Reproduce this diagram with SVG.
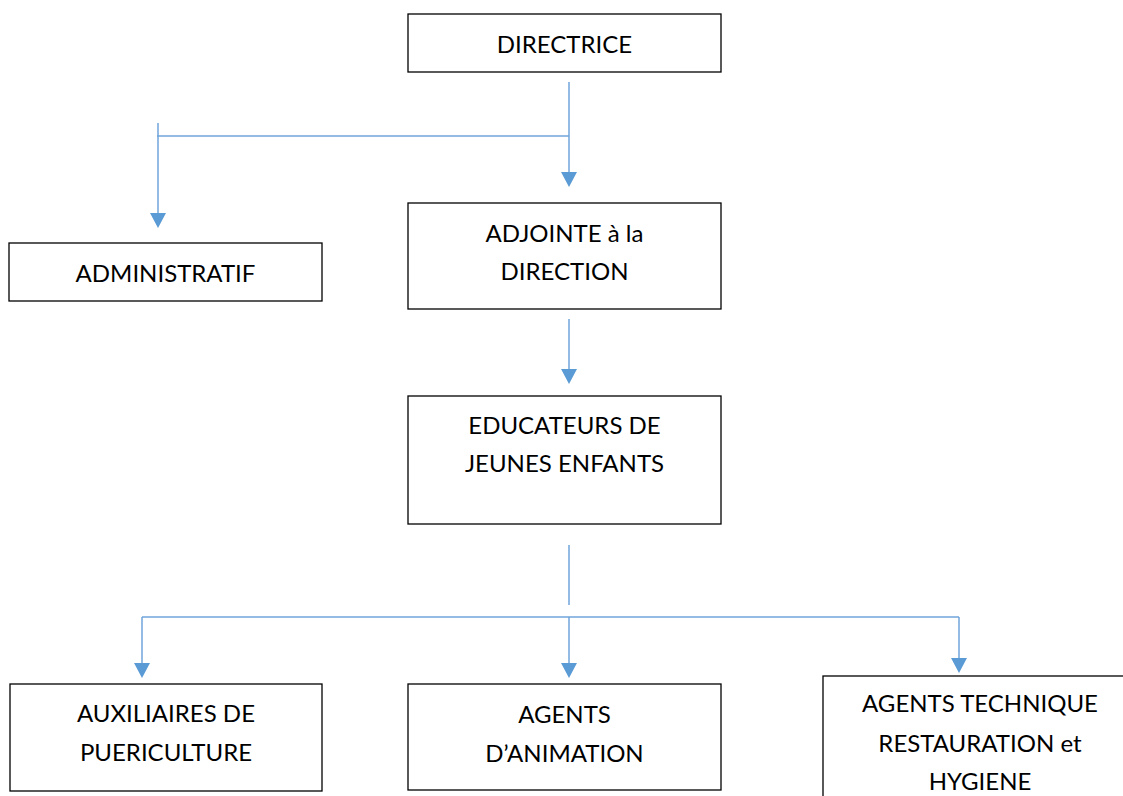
<svg xmlns="http://www.w3.org/2000/svg" width="1123" height="796" viewBox="0 0 1123 796">
<defs>
<style>
.box{fill:#fff;stroke:#000;stroke-width:1.3}
.t{font-family:Lato,"Liberation Sans",sans-serif;font-size:24px;fill:#000;text-anchor:middle}
.c{fill:none;stroke:#6FA5DA;stroke-width:1.5}
</style>
<marker id="ah" markerWidth="16" markerHeight="15" refX="8" refY="15" orient="auto-start-reverse" markerUnits="userSpaceOnUse" viewBox="0 0 16 15">
<path d="M0,0 L16,0 L8,15 Z" fill="#5B9BD5"/>
</marker>
</defs>
<rect width="1123" height="796" fill="#fff"/>
<g id="connectors">
<line class="c" x1="569" y1="82" x2="569" y2="172"/>
<path d="M561,172 L577,172 L569,187 Z" fill="#5B9BD5"/>
<line class="c" x1="157" y1="136" x2="569" y2="136"/>
<line class="c" x1="158" y1="123" x2="158" y2="213"/>
<path d="M150,213 L166,213 L158,228 Z" fill="#5B9BD5"/>
<line class="c" x1="569" y1="319" x2="569" y2="369"/>
<path d="M561,369 L577,369 L569,384 Z" fill="#5B9BD5"/>
<line class="c" x1="569" y1="545" x2="569" y2="605"/>
<line class="c" x1="142" y1="617" x2="959" y2="617"/>
<line class="c" x1="142" y1="617" x2="142" y2="663"/>
<path d="M134,663 L150,663 L142,678 Z" fill="#5B9BD5"/>
<line class="c" x1="569" y1="617" x2="569" y2="663"/>
<path d="M561,663 L577,663 L569,678 Z" fill="#5B9BD5"/>
<line class="c" x1="959" y1="617" x2="959" y2="658"/>
<path d="M951,658 L967,658 L959,673 Z" fill="#5B9BD5"/>
</g>
<g id="directrice">
<rect class="box" x="408" y="14" width="313" height="58"/>
<text class="t" x="564.5" y="53">DIRECTRICE</text>
</g>
<g id="administratif">
<rect class="box" x="9" y="243" width="313" height="58"/>
<text class="t" x="165.5" y="282">ADMINISTRATIF</text>
</g>
<g id="adjointe">
<rect class="box" x="408" y="203" width="313" height="106"/>
<text class="t" x="564.5" y="242">ADJOINTE à la</text>
<text class="t" x="564.5" y="280">DIRECTION</text>
</g>
<g id="educateurs">
<rect class="box" x="408" y="396" width="313" height="128"/>
<text class="t" x="564.5" y="434">EDUCATEURS DE</text>
<text class="t" x="564.5" y="472">JEUNES ENFANTS</text>
</g>
<g id="auxiliaires">
<rect class="box" x="10" y="684" width="312" height="107"/>
<text class="t" x="166" y="722">AUXILIAIRES DE</text>
<text class="t" x="166" y="761">PUERICULTURE</text>
</g>
<g id="agents-animation">
<rect class="box" x="408" y="684" width="313" height="106"/>
<text class="t" x="564.5" y="723">AGENTS</text>
<text class="t" x="564.5" y="762">D’ANIMATION</text>
</g>
<g id="agents-technique">
<rect class="box" x="823" y="676" width="313" height="130"/>
<text class="t" x="980" y="712">AGENTS TECHNIQUE</text>
<text class="t" x="980" y="752">RESTAURATION et</text>
<text class="t" x="980" y="790">HYGIENE</text>
</g>
</svg>
